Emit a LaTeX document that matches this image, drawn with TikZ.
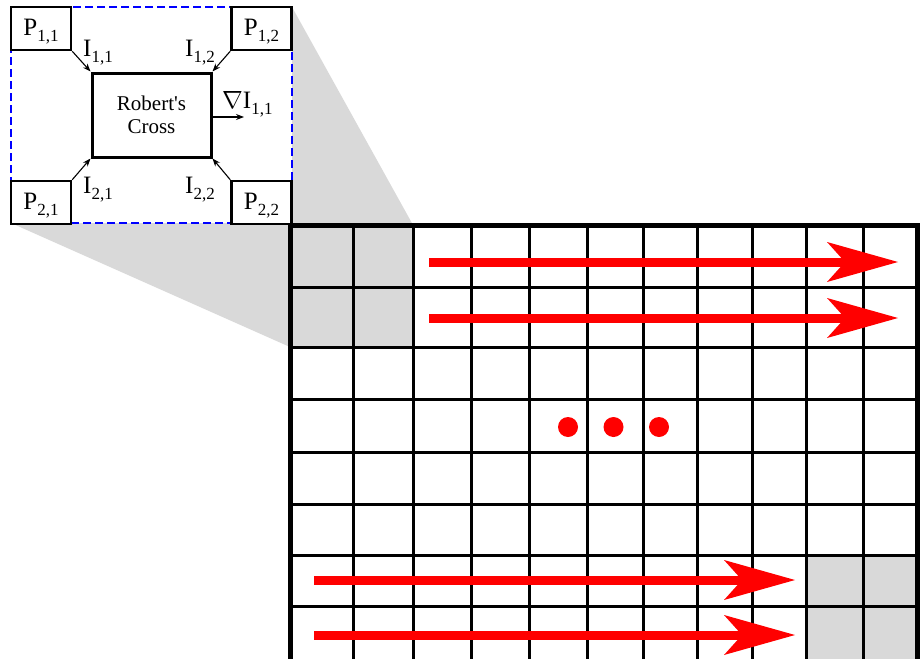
\documentclass[tikz,border=0pt]{standalone}
\usepackage{fontspec}
\setmainfont{Liberation Serif}
\usetikzlibrary{arrows.meta}
\definecolor{cellgray}{RGB}{217,217,217}
\definecolor{pureblue}{RGB}{0,0,255}
\definecolor{purered}{RGB}{255,0,0}
\newcommand{\sbs}[1]{\raisebox{-6pt}{\fontsize{17}{17}\selectfont #1}}
\begin{document}
\begin{tikzpicture}[x=1pt,y=-1pt,
  gridline/.style={line width=3pt},
  borderline/.style={line width=5pt},
  grayfill/.style={fill=cellgray},
  bigarrow/.style={purered, line width=9pt, -{Stealth[length=71pt,width=40pt,inset=18pt,line width=0pt]}},
  dot/.style={fill=purered},
  insetbox/.style={draw=pureblue, line width=2pt, dash pattern=on 8pt off 4pt, fill=white, minimum width=281pt, minimum height=216pt, inner sep=0pt},
  pbox/.style={draw, line width=2.5pt, fill=white, minimum width=60pt, minimum height=43pt, inner sep=0pt, text height=17pt, text depth=4pt, font=\fontsize{25}{28}\selectfont},
  rcbox/.style={draw, line width=3pt, fill=white, minimum width=119pt, minimum height=84pt, inner sep=0pt, align=center, font=\fontsize{21}{23}\selectfont},
  lab/.style={inner sep=0pt, anchor=base west, font=\fontsize{25}{28}\selectfont},
  conn/.style={line width=1.1pt, -{Stealth[length=8pt,width=6pt]}}
]
\useasboundingbox (0,0) rectangle (922,659);
\clip (0,0) rectangle (922,659);

% projection shading
\coordinate (zA) at (11,223);
\coordinate (zB) at (292,7);
\coordinate (zC) at (413,225);
\coordinate (zD) at (413,347);
\coordinate (zE) at (290,347);
\path[grayfill] (zA) -- (zB) -- (zC) -- (zD) -- (zE) -- cycle;

% grid
\path[grayfill] (290,225) rectangle (413,347);
\path[grayfill] (806,555) rectangle (917,670);
\foreach \x in {353,413,471,529,587,643,697,752,806,863}
  \draw[gridline] (\x,225) -- (\x,670);
\foreach \y in {287,347,399,452,504,555,606}
  \draw[gridline] (290,\y) -- (917,\y);
\draw[borderline] (290,670) -- (290,225) -- (917,225) -- (917,670);

% red arrows
\coordinate (a1s) at (429,262); \coordinate (a1e) at (898,262);
\coordinate (a2s) at (429,318); \coordinate (a2e) at (898,318);
\coordinate (a3s) at (314,580); \coordinate (a3e) at (795,580);
\coordinate (a4s) at (314,635); \coordinate (a4e) at (795,635);
\draw[bigarrow] (a1s) -- (a1e);
\draw[bigarrow] (a2s) -- (a2e);
\draw[bigarrow] (a3s) -- (a3e);
\draw[bigarrow] (a4s) -- (a4e);

% dots
\path[dot] (568,427) circle[radius=10];
\path[dot] (613.5,427) circle[radius=10];
\path[dot] (659,427) circle[radius=10];

% inset
\node[insetbox] (inset) at (151.5,115) {};
\node[pbox] (p11) at (41,28.5) {P\sbs{1,1}};
\node[pbox] (p12) at (261.5,28.5) {P\sbs{1,2}};
\node[pbox] (p21) at (41,202.5) {P\sbs{2,1}};
\node[pbox] (p22) at (261.5,202.5) {P\sbs{2,2}};
\node[rcbox] (rc) at (151.5,115) {Robert\textquotesingle s\\Cross};

\draw[conn] (p11.south east) -- (rc.north west);
\draw[conn] (p12.south west) -- (rc.north east);
\draw[conn] (p21.north east) -- (rc.south west);
\draw[conn] (p22.north west) -- (rc.south east);

\node[lab] (i11) at (83,56) {I\sbs{1,1}};
\node[lab] (i12) at (185,56) {I\sbs{1,2}};
\node[lab] (i21) at (83,193) {I\sbs{2,1}};
\node[lab] (i22) at (185,193) {I\sbs{2,2}};

\coordinate (gend) at (244,117);
\draw[conn] (rc.east |- gend) -- (gend);
\node[lab] (grad) at (222,108) {$\nabla$I\sbs{1,1}};
\end{tikzpicture}
\end{document}
